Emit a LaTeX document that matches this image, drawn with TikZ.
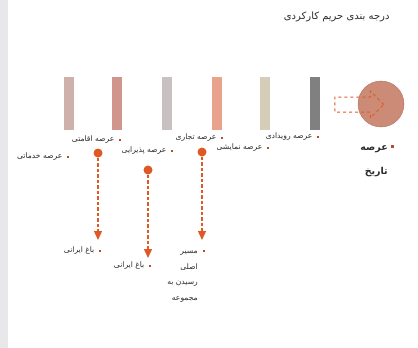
\documentclass[tikz,border=0pt]{standalone}
\usepackage{fontspec}
\usetikzlibrary{shapes,shapes.arrows,positioning,arrows.meta}
\TeXXeTstate=1
\newfontfamily\farsi[Script=Arabic]{DejaVu Sans}
\definecolor{strip}{HTML}{E8E8EA}
\definecolor{barA}{HTML}{CEB1AB}
\definecolor{barB}{HTML}{D0958D}
\definecolor{barC}{HTML}{C9C1C1}
\definecolor{barD}{HTML}{E9A28C}
\definecolor{barE}{HTML}{D6CDB9}
\definecolor{barF}{HTML}{808080}
\definecolor{flowred}{HTML}{DD5A25}
\definecolor{bulletred}{HTML}{B84A32}
\definecolor{histfill}{HTML}{CC8B76}
\definecolor{histline}{HTML}{B07060}
\definecolor{textgrey}{HTML}{2A2A2A}

\begin{document}
\begin{tikzpicture}[x=1pt,y=-1pt]
   \useasboundingbox (0,0) rectangle (418,348);
   \fill[strip] (0,0) rectangle (8,348);
   \tikzstyle{bar}=[minimum width=10pt, minimum height=53pt, inner sep=0pt]
   \tikzstyle{bullet}=[fill=bulletred, minimum size=2.5pt, inner sep=0pt]
   \tikzstyle{lab}=[font=\farsi\fontsize{7.6}{9}\selectfont, text=textgrey, inner sep=0pt]
   \tikzstyle{hub}=[circle, fill=flowred, minimum size=9pt, inner sep=0pt]
   \tikzstyle{flow}=[draw=flowred, line width=1.4pt, dash pattern=on 3.5pt off 2pt, -{Triangle[width=8pt,length=9pt]}]
   \node[anchor=east, font=\farsi\fontsize{10}{12}\selectfont, text=textgrey] (title) at (393,17) {\beginR درجه بندی حریم کارکردی\endR};
   \foreach \i/\x/\c in {1/69/barA,2/117/barB,3/167/barC,4/217/barD,5/265/barE,6/314.5/barF} {
       \node[bar, fill=\c] (bar\i) at (\x,103.5) {};
   }
   \node[circle, fill=histfill, draw=histline, minimum size=46pt, inner sep=0pt] (hist) at (381,104) {};
   \node[single arrow, draw=flowred, dashed, line width=1pt, minimum height=49pt, inner sep=7pt, single arrow head extend=6pt] (move) at (355.5,104.5) {};
   \foreach \n/\x/\y/\t in {trade/222/138/عرصه تجاری, event/318/137/عرصه رویدادی, show/268/148/عرصه نمایشی, stay/120/140/عرصه اقامتی, service/68/157/عرصه خدماتی, food/172/151/عرصه پذیرایی, gardenA/100/251/باغ ایرانی, gardenB/150/266/باغ ایرانی} {
       \node[bullet] (b\n) at (\x,\y) {};
       \node[lab, left=4pt of b\n] (l\n) {\beginR \t\endR};
   }
   \node[bullet] (broute) at (204,251) {};
   \node[lab, align=right, anchor=north east, font=\farsi\fontsize{7.6}{15.5}\selectfont] (lroute) at (198,251) {\beginR مسیر\endR\\\beginR اصلی\endR\\\beginR رسیدن به\endR\\\beginR مجموعه\endR};
   \node[bullet, minimum size=3pt] (bhist) at (392,146) {};
   \node[lab, align=right, anchor=north east, font=\farsi\bfseries\fontsize{9.5}{24}\selectfont] (lhist) at (388,145) {\beginR عرصه\endR\\\beginR تاریخ\endR};
   \foreach \i/\x/\y/\e in {1/98/153/240,2/148/170/258,3/202/152/240} {
       \node[hub] (hub\i) at (\x,\y) {};
       \coordinate (end\i) at (\x,\e);
       \draw[flow] (hub\i) -- (end\i);
   }
\end{tikzpicture}
\end{document}
